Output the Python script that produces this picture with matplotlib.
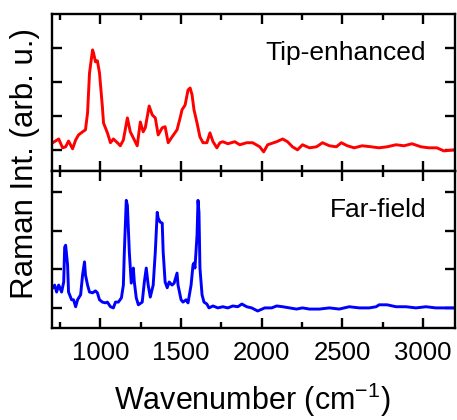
import matplotlib
matplotlib.use("Agg")
from matplotlib import pyplot as plt
from matplotlib.ticker import MultipleLocator, NullFormatter

matplotlib.rcParams['font.family'] = ['Liberation Sans', 'DejaVu Sans']
matplotlib.rcParams['mathtext.default'] = 'regular'

# tip-enhanced spectrum (wavenumber in cm^-1, intensity in arb. units)
tip_wn = [704, 741, 765, 784, 802, 827, 846, 864, 889, 907,
          920, 932, 951, 957, 969, 981, 994, 1012, 1019, 1043,
          1062, 1080, 1105, 1123, 1142, 1167, 1185, 1204, 1228, 1247,
          1265, 1278, 1302, 1321, 1340, 1358, 1383, 1401, 1420, 1444,
          1475, 1494, 1506, 1525, 1543, 1556, 1568, 1580, 1599, 1617,
          1636, 1660, 1679, 1698, 1722, 1741, 1759, 1790, 1833, 1864,
          1907, 1944, 1988, 2012, 2037, 2093, 2130, 2160, 2191, 2222,
          2253, 2296, 2340, 2377, 2420, 2463, 2494, 2531, 2574, 2623,
          2679, 2728, 2778, 2833, 2883, 2932, 2988, 3037, 3086, 3130,
          3200]
tip_int = [0.21, 0.32, 0.06, 0.09, 0.26, 0.03, 0.29, 0.44, 0.53, 0.59,
           1.09, 2.26, 2.94, 2.85, 2.59, 2.62, 2.26, 1.26, 0.79, 0.50,
           0.21, 0.32, 0.21, 0.12, 0.29, 0.94, 0.53, 0.35, 0.12, 0.82,
           0.53, 0.65, 1.29, 1.03, 0.94, 0.44, 0.65, 0.68, 0.21, 0.38,
           0.59, 0.94, 1.18, 1.32, 1.76, 1.82, 1.62, 1.18, 0.79, 0.38,
           0.21, 0.21, 0.50, 0.24, 0.06, 0.21, 0.24, 0.18, 0.24, 0.15,
           0.21, 0.21, 0.09, -0.06, 0.15, 0.24, 0.32, 0.24, 0.09, 0.00,
           0.15, 0.06, 0.09, 0.21, 0.12, 0.09, 0.21, 0.12, 0.06, 0.12,
           0.09, 0.06, 0.09, 0.15, 0.12, 0.18, 0.09, 0.06, 0.06, -0.03,
           0.00]

# far-field spectrum
far_wn = [704, 716, 728, 741, 759, 772, 778, 784, 796, 802,
          821, 833, 846, 858, 877, 889, 901, 907, 920, 932,
          951, 969, 981, 994, 1012, 1031, 1043, 1062, 1080, 1093,
          1111, 1130, 1142, 1148, 1160, 1167, 1179, 1191, 1204, 1210,
          1222, 1235, 1259, 1272, 1284, 1296, 1309, 1327, 1340, 1352,
          1358, 1370, 1383, 1389, 1401, 1414, 1426, 1444, 1457, 1475,
          1481, 1500, 1512, 1531, 1543, 1562, 1574, 1580, 1586, 1599,
          1605, 1611, 1617, 1630, 1642, 1660, 1673, 1698, 1728, 1759,
          1790, 1821, 1852, 1877, 1907, 1938, 1975, 2019, 2062, 2093,
          2130, 2173, 2216, 2253, 2296, 2358, 2420, 2481, 2543, 2605,
          2667, 2710, 2728, 2778, 2833, 2895, 2957, 3019, 3080, 3142,
          3200]
far_int = [0.52, 0.59, 0.41, 0.59, 0.41, 0.67, 1.57, 1.62, 1.11, 0.41,
           0.21, 0.21, 0.03, 0.21, 0.34, 0.85, 1.19, 0.85, 0.59, 0.41,
           0.39, 0.44, 0.39, 0.21, 0.15, 0.13, 0.15, 0.03, 0.00, 0.15,
           0.15, 0.26, 0.59, 1.44, 2.78, 2.65, 1.44, 0.64, 1.03, 0.67,
           0.26, 0.08, 0.15, 0.67, 1.03, 0.59, 0.28, 0.59, 1.44, 2.47,
           2.32, 2.22, 2.19, 1.44, 0.67, 0.52, 0.67, 0.59, 0.64, 0.90,
           0.59, 0.21, 0.15, 0.21, 0.13, 0.59, 1.11, 1.16, 1.03, 1.88,
           2.78, 2.47, 1.03, 0.34, 0.15, 0.10, 0.00, 0.05, 0.00, 0.03,
           0.00, 0.05, 0.03, 0.10, 0.03, 0.00, -0.08, 0.00, 0.00, 0.05,
           0.03, 0.00, -0.03, 0.00, -0.03, -0.03, 0.00, -0.03, 0.03, 0.00,
           0.00, 0.03, 0.08, 0.08, 0.03, 0.03, 0.00, 0.03, 0.00, 0.00,
           0.00]

fig = plt.figure(figsize=(4.57, 4.2), dpi=100)
gs = fig.add_gridspec(2, 1, left=0.114, right=0.996, top=0.967, bottom=0.219, hspace=0)
ax1 = fig.add_subplot(gs[0])
ax2 = fig.add_subplot(gs[1], sharex=ax1)

ax1.plot(tip_wn, tip_int, color='#ff0000', lw=2.1)
ax2.plot(far_wn, far_int, color='#0000ff', lw=2.1)

ax1.set_ylim(-0.62, 4.0)
ax2.set_ylim(-0.52, 3.54)
ax1.set_xlim(700, 3200)

for ax in (ax1, ax2):
    ax.set_yticks([0, 1, 2, 3])
    ax.yaxis.set_major_formatter(NullFormatter())
    ax.xaxis.set_major_locator(MultipleLocator(500))
    ax.xaxis.set_minor_locator(MultipleLocator(250))
    ax.tick_params(which='both', direction='in', top=True, right=True, width=1.7)
    ax.tick_params(which='major', length=7.5)
    ax.tick_params(which='minor', length=4.3)
    for s in ax.spines.values():
        s.set_linewidth(1.7)

ax1.tick_params(labelbottom=False)
ax2.tick_params(axis='x', labelsize=18.5, pad=9)

ax1.text(0.928, 0.707, "Tip-enhanced", transform=ax1.transAxes,
         ha='right', va='baseline', fontsize=19)
ax2.text(0.928, 0.707, "Far-field", transform=ax2.transAxes,
         ha='right', va='baseline', fontsize=19)

fig.text(0.055, 0.611, "Raman Int. (arb. u.)", rotation=90,
         ha='center', va='center', fontsize=22.5)
fig.text(0.553, 0.024, r"Wavenumber (cm$^{-1}$)", ha='center', va='baseline', fontsize=22)

plt.savefig("out.png", dpi=100)
